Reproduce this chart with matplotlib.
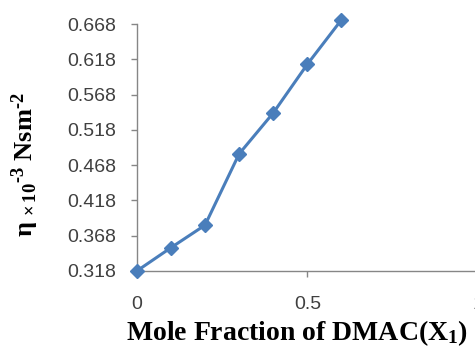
import matplotlib
matplotlib.use("Agg")
import matplotlib.pyplot as plt

plt.rcParams["mathtext.fontset"] = "custom"
plt.rcParams["mathtext.rm"] = "Liberation Serif:bold"
plt.rcParams["mathtext.bf"] = "Liberation Serif:bold"
plt.rcParams["mathtext.it"] = "Liberation Serif:bold"

# mole fraction of DMAC and viscosity (x10^-3 Nsm^-2)
x1 = [0.0, 0.1, 0.2, 0.3, 0.4, 0.5, 0.6]
eta = [0.318, 0.351, 0.383, 0.484, 0.542, 0.611, 0.674]

yticks = [0.318, 0.368, 0.418, 0.468, 0.518, 0.568, 0.618, 0.668]
xticks = [0, 0.5, 1]

fig = plt.figure(figsize=(4.75, 3.49), dpi=100)
ax = fig.add_axes([0.288, 0.2235, 0.718, 0.7075])

ax.plot(x1, eta, color="#4a7ebb", lw=2.2, marker="D", ms=7,
        mfc="#4a7ebb", mec="#4a7ebb", clip_on=False, zorder=3)

ax.set_xlim(0, 1)
ax.set_ylim(0.318, 0.668)
ax.set_yticks(yticks)
ax.set_yticklabels([f"{v:.3f}" for v in yticks])
ax.set_xticks(xticks)
ax.set_xticklabels(["0", "0.5", "1"])

for s in ["top", "right"]:
    ax.spines[s].set_visible(False)
for s in ["left", "bottom"]:
    ax.spines[s].set_color("#868686")
    ax.spines[s].set_linewidth(1.0)

ax.tick_params(axis="both", colors="#868686", labelcolor="#404040",
               labelsize=14, length=4, width=1)
ax.tick_params(axis="x", pad=14)
ax.tick_params(axis="y", pad=11)
for t in ax.get_xticklabels() + ax.get_yticklabels():
    t.set_family("Liberation Sans")

ax.set_xlabel(r"Mole Fraction of DMAC(X$_1$)", family="Liberation Serif",
              fontweight="bold", fontsize=20)
ax.xaxis.set_label_coords(0.469, -0.19)
ax.set_ylabel(r"$\eta$ $_{\times\,10}$$^{\text{-3}}$ Nsm$^{\text{-2}}$",
              family="Liberation Serif", fontweight="bold", fontsize=19)
ax.yaxis.set_label_coords(-0.28, 0.43)

fig.savefig("out.png", dpi=100)
